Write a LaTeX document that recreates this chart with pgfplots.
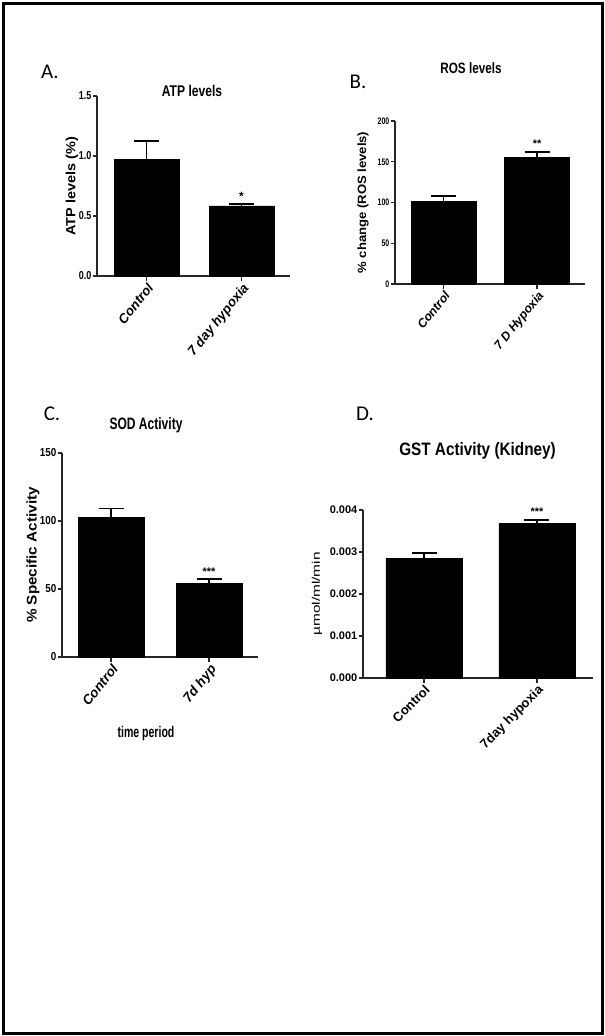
\documentclass[border=0pt]{standalone}
\usepackage{fontspec}
\setmainfont{Liberation Sans}
\newfontfamily\gpn{Liberation Sans}
\newfontfamily\gpsa{Liberation Sans}[FakeStretch=0.68]
\newfontfamily\gpsb{Liberation Sans}[FakeStretch=0.73]
\newfontfamily\gpsc{Liberation Sans}[FakeStretch=0.78]
\newfontfamily\gpsd{Liberation Sans}[FakeStretch=0.85]
\newfontfamily\gpv{Liberation Sans}[FakeStretch=1.09]
\newfontfamily\gpw{Liberation Sans}[FakeStretch=1.4]
\newfontfamily\calib{Carlito}
\usepackage{pgfplots}
\pgfplotsset{compat=1.18}
\pgfplotsset{
  gpaxis/.style={
    scale only axis, anchor=south west, clip=false,
    axis x line=bottom, axis y line=left,
    axis line style={-, line width=1.4pt, black!85},
    tick style={line width=1.2pt, black!85},
    tick align=outside, major tick length=4.5pt,
    ymin=0, xtick={0,1}, scaled y ticks=false,
    /pgf/number format/assume math mode=true,
    xticklabel style={rotate=51, anchor=north east, inner sep=1pt},
    yticklabel style={inner sep=1pt},
    ylabel style={anchor=center},
    every axis plot/.append style={fill=black, draw=black},
  },
  gperr/.style={
    error bars/.cd, y dir=plus, y explicit,
    error bar style={line width=1.8pt, black},
    error mark options={rotate=90, mark size=12.5pt, line width=1.8pt, black},
  },
}
\begin{document}
\begin{tikzpicture}
\useasboundingbox (0,0) rectangle (605pt,-1036pt);
\draw[line width=3pt] (3pt,-3pt) rectangle (602pt,-1033pt);

% ---------------- A ----------------
\node[font=\calib\fontsize{21}{24}\selectfont, anchor=base] at (50pt,-78pt) {A.};
\node[font=\gpsc\bfseries\fontsize{15.5}{18}\selectfont, anchor=base] at (192pt,-96pt) {ATP levels};
\begin{axis}[gpaxis,
  at={(97pt,-276pt)}, width=193pt, height=180pt,
  xmin=-0.521, xmax=1.51, ymax=1.5,
  ytick={0,0.5,1,1.5}, yticklabels={0.0,0.5,1.0,1.5},
  xticklabels={Control,7 day hypoxia},
  yticklabel style={font=\gpsc\bfseries\fontsize{11.5}{13}\selectfont},
  xticklabel style={font=\gpn\bfseries\itshape\fontsize{13.3}{15}\selectfont},
  ylabel={ATP levels (\%)},
  ylabel style={font=\gpv\bfseries\fontsize{13.3}{15}\selectfont, at={(axis description cs:-0.13,0.5)}},
]
\addplot[ybar, bar width=0.684, bar shift=0pt, gperr] coordinates {
  (0,0.974) +- (0,0.153)
  (1,0.585) +- (0,0.012)
};
\node[font=\gpn\bfseries\fontsize{12}{13}\selectfont, anchor=base] at (axis cs:1,0.63) {*};
\end{axis}

% ---------------- B ----------------
\node[font=\calib\fontsize{21}{24}\selectfont, anchor=base] at (358pt,-88pt) {B.};
\node[font=\gpsc\bfseries\fontsize{15}{18}\selectfont, anchor=base] at (471pt,-73.5pt) {ROS levels};
\begin{axis}[gpaxis,
  at={(395pt,-284pt)}, width=190pt, height=163pt,
  xmin=-0.519, xmax=1.513, ymax=200,
  ytick={0,50,100,150,200}, yticklabels={0,50,100,150,200},
  xticklabels={Control,7 D Hypoxia},
  yticklabel style={font=\gpsb\bfseries\fontsize{9.5}{11}\selectfont},
  xticklabel style={font=\gpn\bfseries\itshape\fontsize{12.3}{14}\selectfont},
  ylabel={\% change (ROS levels)},
  ylabel style={font=\gpv\bfseries\fontsize{12}{14}\selectfont, at={(axis description cs:-0.168,0.5)}},
]
\addplot[ybar, bar width=0.695, bar shift=0pt, gperr] coordinates {
  (0,101) +- (0,7)
  (1,155.2) +- (0,6.5)
};
\node[font=\gpn\bfseries\fontsize{11}{12}\selectfont, anchor=base] at (axis cs:1,168) {**};
\end{axis}

% ---------------- C ----------------
\node[font=\calib\fontsize{21}{24}\selectfont, anchor=base] at (52pt,-420pt) {C.};
\node[font=\gpsb\bfseries\fontsize{16.5}{19}\selectfont, anchor=base] at (146pt,-429.5pt) {SOD Activity};
\node[font=\gpsa\bfseries\fontsize{15.5}{18}\selectfont, anchor=base] at (146pt,-737pt) {time period};
\begin{axis}[gpaxis,
  at={(62pt,-657pt)}, width=196pt, height=204pt,
  xmin=-0.5, xmax=1.5, ymax=150,
  ytick={0,50,100,150}, yticklabels={0,50,100,150},
  xticklabels={Control,7d hyp},
  yticklabel style={font=\gpsd\bfseries\fontsize{11.5}{13}\selectfont},
  xticklabel style={font=\gpn\bfseries\itshape\fontsize{13.5}{15}\selectfont},
  ylabel={\% Specific Activity},
  ylabel style={font=\gpv\bfseries\fontsize{14}{16}\selectfont, at={(axis description cs:-0.148,0.5)}},
]
\addplot[ybar, bar width=0.673, bar shift=0pt, gperr] coordinates {
  (0,102.5) +- (0,6.7)
  (1,54.1) +- (0,3.3)
};
\node[font=\gpn\bfseries\fontsize{11}{12}\selectfont, anchor=base] at (axis cs:1,60) {***};
\end{axis}

% ---------------- D ----------------
\node[font=\calib\fontsize{21}{24}\selectfont, anchor=base] at (365pt,-420pt) {D.};
\node[font=\gpsd\bfseries\fontsize{18}{21}\selectfont, anchor=base] at (477.5pt,-455.5pt) {GST Activity (Kidney)};
\begin{axis}[gpaxis,
  at={(363pt,-678pt)}, width=230pt, height=168pt,
  xmin=-0.54, xmax=1.496, ymax=0.004,
  ytick={0,0.001,0.002,0.003,0.004}, yticklabels={0.000,0.001,0.002,0.003,0.004},
  xticklabels={Control,7day hypoxia},
  yticklabel style={font=\gpn\bfseries\fontsize{11}{13}\selectfont},
  xticklabel style={rotate=-6, font=\gpn\bfseries\fontsize{13}{15}\selectfont},
  ylabel={\textmu mol/ml/min},
  ylabel style={font=\gpw\fontsize{11}{13}\selectfont, at={(axis description cs:-0.2,0.5)}},
]
\addplot[ybar, bar width=0.673, bar shift=0pt, gperr] coordinates {
  (0,0.00285) +- (0,0.00012)
  (1,0.00368) +- (0,0.00008)
};
\node[font=\gpn\bfseries\fontsize{11}{12}\selectfont, anchor=base] at (axis cs:1,0.00388) {***};
\end{axis}
\end{tikzpicture}
\end{document}
